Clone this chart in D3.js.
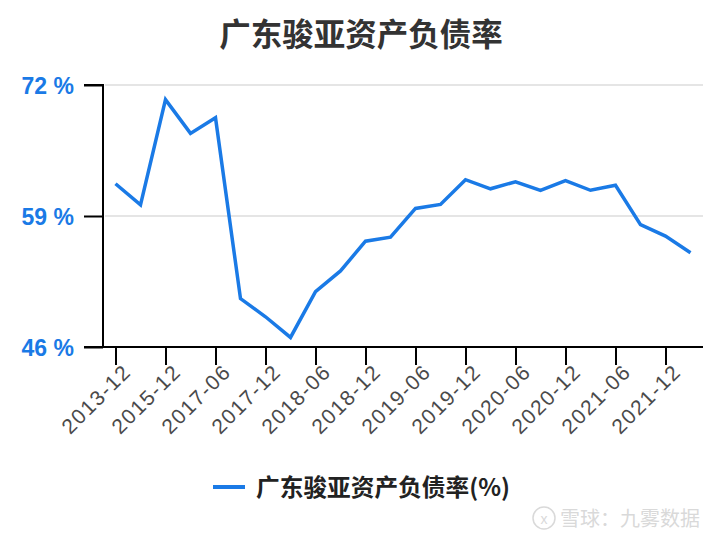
<!DOCTYPE html>
<html>
<head>
<meta charset="utf-8">
<script src="https://cdn.jsdelivr.net/npm/d3@7/dist/d3.min.js"></script>
<style>
  html, body { margin: 0; padding: 0; background: #fff; }
  svg { display: block; }
</style>
</head>
<body>
<div id="chart"></div>
<script>
const categories = ["2013-12","2014-12","2015-12","2016-12","2017-06","2017-09","2017-12","2018-03",
  "2018-06","2018-09","2018-12","2019-03","2019-06","2019-09","2019-12","2020-03",
  "2020-06","2020-09","2020-12","2021-03","2021-06","2021-09","2021-12","2022-03"];
const values = [62.2, 60.1, 70.55, 67.2, 68.75, 50.8, 49.0, 46.95,
  51.5, 53.55, 56.5, 56.9, 59.75, 60.15, 62.6, 61.7,
  62.4, 61.55, 62.5, 61.55, 62.05, 58.15, 57.0, 55.35];
const yTicks = [46, 59, 72];
const shownLabels = ["2013-12","2015-12","2017-06","2017-12","2018-06","2018-12","2019-06",
  "2019-12","2020-06","2020-12","2021-06","2021-12"];
const title = "广东骏亚资产负债率";
const seriesName = "广东骏亚资产负债率(%)";
const watermark = "雪球：九雾数据";

const W = 724, H = 540;
const margin = {left: 103, right: 21, top: 85, bottom: 193};
const blue = "#1a7ae6";

const svg = d3.select("#chart").append("svg").attr("width", W).attr("height", H);

const x = d3.scalePoint().domain(categories).range([margin.left, W - margin.right]).padding(0.5);
const y = d3.scaleLinear().domain([46, 72]).range([H - margin.bottom, margin.top]);

// title
svg.append("text").attr("x", 361).attr("y", 46).attr("text-anchor", "middle")
  .attr("font-family", "'Noto Sans CJK SC', sans-serif").attr("font-weight", "bold")
  .attr("font-size", 31.5).attr("fill", "#333").text(title);

// gridlines
svg.append("g").selectAll("line").data(yTicks.filter(d => d !== 46)).join("line")
  .attr("x1", margin.left + 2).attr("x2", W - margin.right)
  .attr("y1", d => y(d)).attr("y2", d => y(d))
  .attr("stroke", "#dcdcdc").attr("stroke-width", 1.5);

// y axis
const yAxis = d3.axisLeft(y).tickValues(yTicks).tickSize(19).tickPadding(10).tickFormat(d => d + " %");
const gy = svg.append("g").attr("transform", `translate(${margin.left},0)`).call(yAxis);
gy.select(".domain").attr("stroke", "#000").attr("stroke-width", 2).attr("d", `M-19,${y(72)}H0V${y(46)}`);
gy.selectAll(".tick line").attr("stroke", "#000").attr("stroke-width", 2);
gy.selectAll(".tick text").attr("font-family", "'Liberation Sans', Arial, sans-serif")
  .attr("font-weight", "bold").attr("font-size", 23).attr("fill", blue).attr("dy", "0.36em");

// x axis
const xAxis = d3.axisBottom(x).tickValues(shownLabels).tickSize(18).tickPadding(4);
const gx = svg.append("g").attr("transform", `translate(0,${H - margin.bottom})`).call(xAxis);
gx.select(".domain").attr("stroke", "#000").attr("stroke-width", 2).attr("d", `M${margin.left - 19},0H${W - margin.right}`);
gx.selectAll(".tick line").attr("stroke", "#000").attr("stroke-width", 2);
gx.selectAll(".tick text")
  .attr("font-family", "'Liberation Sans', Arial, sans-serif").attr("font-size", 21)
  .attr("letter-spacing", 1.5)
  .attr("fill", "#4a4a4a").attr("text-anchor", "end")
  .attr("transform", "translate(11,21) rotate(-45)").attr("dy", "0.35em").attr("y", 0);

// line
const line = d3.line().x((d, i) => x(categories[i])).y(d => y(d));
svg.append("path").datum(values).attr("d", line)
  .attr("fill", "none").attr("stroke", blue).attr("stroke-width", 3.5)
  .attr("stroke-linejoin", "miter");

// legend
svg.append("line").attr("x1", 213).attr("x2", 245).attr("y1", 487).attr("y2", 487)
  .attr("stroke", blue).attr("stroke-width", 4);
svg.append("text").attr("x", 256).attr("y", 496)
  .attr("font-family", "'Noto Sans CJK SC', sans-serif").attr("font-weight", "bold")
  .attr("font-size", 23.7).attr("fill", "#222").text(seriesName);

// watermark
const wm = svg.append("g").attr("opacity", 0.55);
wm.append("circle").attr("cx", 544).attr("cy", 518).attr("r", 11)
  .attr("fill", "none").attr("stroke", "#bbb").attr("stroke-width", 1.5);
wm.append("text").attr("x", 544).attr("y", 524).attr("text-anchor", "middle")
  .attr("font-family", "'Liberation Sans', sans-serif").attr("font-size", 14).attr("fill", "#bbb").text("x");
wm.append("text").attr("x", 560).attr("y", 526)
  .attr("font-family", "'Noto Sans CJK SC', sans-serif").attr("font-size", 20)
  .attr("fill", "#bbb").text(watermark);
</script>
</body>
</html>
